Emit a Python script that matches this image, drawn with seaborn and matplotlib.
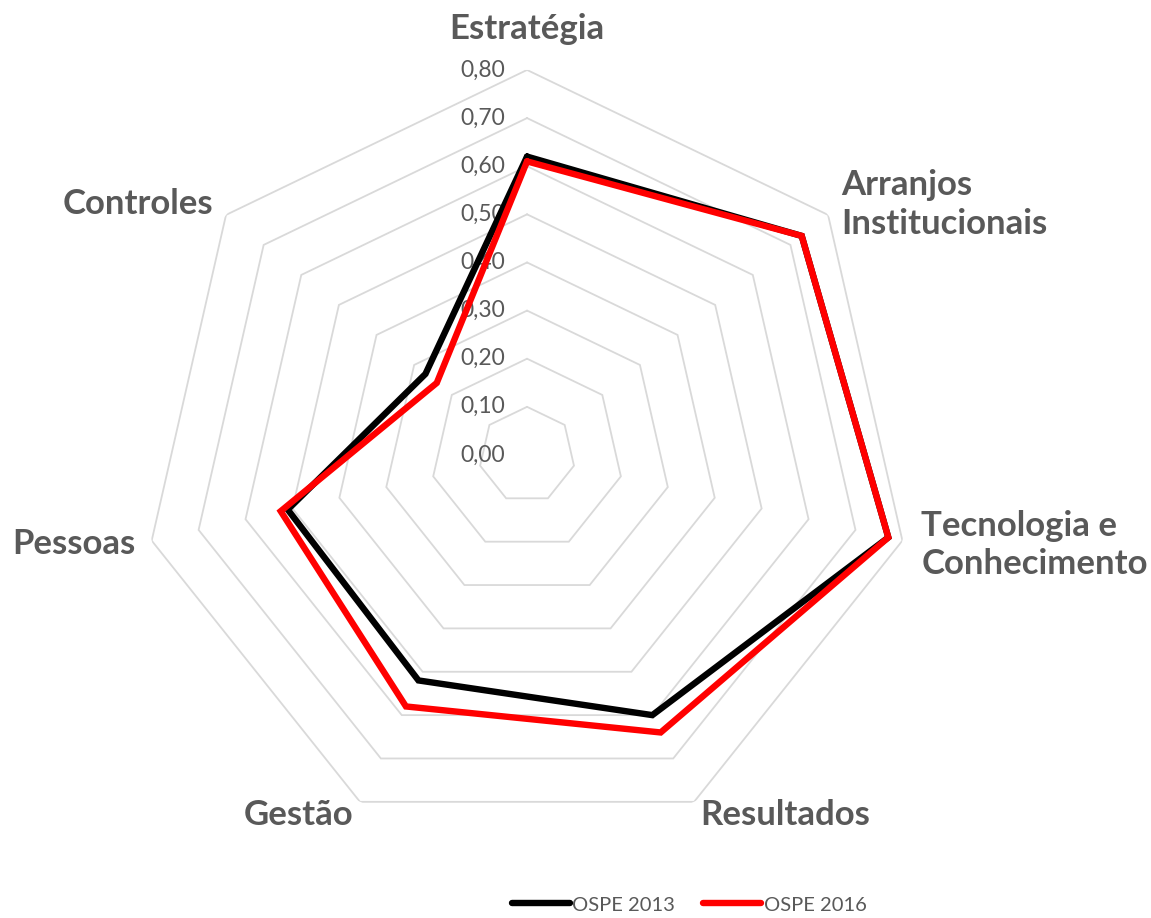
import numpy as np
import pandas as pd
import matplotlib
matplotlib.use('Agg')
import matplotlib.pyplot as plt
import seaborn as sns

categorias = ['Estratégia', 'Arranjos\nInstitucionais', 'Tecnologia e\nConhecimento',
              'Resultados', 'Gestão', 'Pessoas', 'Controles']
ospe_2013 = [0.62, 0.73, 0.77, 0.60, 0.52, 0.51, 0.27]
ospe_2016 = [0.61, 0.73, 0.77, 0.64, 0.58, 0.525, 0.24]
niveis = [0.0, 0.1, 0.2, 0.3, 0.4, 0.5, 0.6, 0.7, 0.8]
rotulos_niveis = ['0,00', '0,10', '0,20', '0,30', '0,40', '0,50', '0,60', '0,70', '0,80']

sns.set_theme(style='white')
plt.rcParams['font.family'] = ['Lato', 'DejaVu Sans']

cinza = '#595959'
n = len(categorias)
angulos = np.linspace(0, 2 * np.pi, n, endpoint=False)
angulos_fech = np.append(angulos, angulos[0])

linhas = []
for nome, vals in [('OSPE 2013', ospe_2013), ('OSPE 2016', ospe_2016)]:
    v = list(vals) + [vals[0]]
    for i, (t, r) in enumerate(zip(angulos_fech, v)):
        linhas.append({'serie': nome, 'ordem': i, 'theta': t, 'valor': r})
df = pd.DataFrame(linhas)

fig = plt.figure(figsize=(11.51, 9.18), dpi=100)
ax = fig.add_axes([0.1234, 0.085, 0.669, 0.8388], projection='polar')
ax.set_theta_zero_location('N')
ax.set_theta_direction(-1)
ax.set_ylim(0, 0.8)
ax.grid(False)
ax.spines['polar'].set_visible(False)
ax.set_xticks([])
ax.set_yticks([])

# grade em heptágonos
for nv in niveis:
    ax.plot(angulos_fech, [nv] * (n + 1), color='#d9d9d9', lw=1.3, zorder=1)

sns.lineplot(data=df, x='theta', y='valor', hue='serie', sort=False, estimator=None,
             palette={'OSPE 2013': 'black', 'OSPE 2016': '#ff0000'},
             linewidth=4.6, ax=ax, legend=False, zorder=3)
for l in ax.lines:
    l.set_solid_joinstyle('miter')
ax.set_xlabel('')
ax.set_ylabel('')

# rótulos dos níveis
for nv, txt in zip(niveis, rotulos_niveis):
    ax.annotate(txt, xy=(0, nv), xytext=(-22, 0), textcoords='offset pixels',
                ha='right', va='center', fontsize=16.5, color=cinza, zorder=2)

# rótulos das categorias
config = [
    (0.885, 'center', 'center'),
    (0.835, 'left', 'center'),
    (0.84, 'left', 'center'),
    (0.83, 'left', 'center'),
    (0.83, 'right', 'center'),
    (0.835, 'right', 'center'),
    (0.835, 'right', 'center'),
]
for ang, cat, (r, ha, va) in zip(angulos, categorias, config):
    ax.text(ang, r, cat, ha=ha, va=va, fontsize=25, fontweight='bold', color=cinza,
            clip_on=False, linespacing=1.25)

handles = [plt.Line2D([], [], color='black', lw=4.6, solid_capstyle='round'),
           plt.Line2D([], [], color='#ff0000', lw=4.6, solid_capstyle='round')]
fig.legend(handles, ['OSPE 2013', 'OSPE 2016'], loc='center', bbox_to_anchor=(0.5986, 0.0142),
           ncol=2, frameon=False, fontsize=14.5, handlelength=2.9, handletextpad=0.1,
           columnspacing=1.4, labelcolor=cinza, borderpad=0)

fig.savefig('out.png', dpi=100)
